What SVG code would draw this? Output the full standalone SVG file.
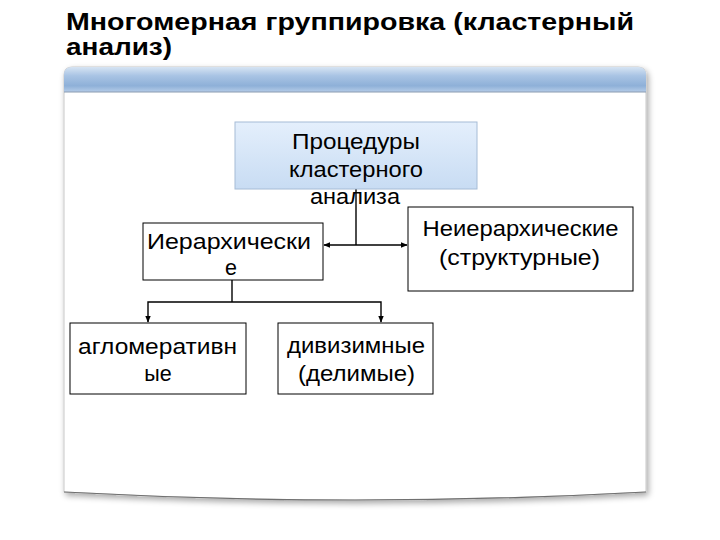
<svg xmlns="http://www.w3.org/2000/svg" width="720" height="540" viewBox="0 0 720 540">
<defs>
<style>
.t{font-family:"Liberation Sans",Arial,sans-serif;font-size:21.5px;fill:#000;text-anchor:middle}
.title{font-family:"Liberation Sans",Arial,sans-serif;font-size:24.5px;font-weight:bold;fill:#000}
.box{fill:#fff;stroke:#000;stroke-width:1}
.ln{fill:none;stroke:#000;stroke-width:1.4}
</style>
<linearGradient id="hdr" x1="0" y1="0" x2="0" y2="1">
<stop offset="0" stop-color="#d6e4f3"/>
<stop offset="0.35" stop-color="#a9c4e4"/>
<stop offset="0.75" stop-color="#8eb0d8"/>
<stop offset="1" stop-color="#b5cce8"/>
</linearGradient>
<linearGradient id="proc" x1="0" y1="0" x2="0" y2="1">
<stop offset="0" stop-color="#e4effc"/>
<stop offset="1" stop-color="#c8dcf3"/>
</linearGradient>
<filter id="sh" x="-5%" y="-5%" width="110%" height="110%">
<feGaussianBlur in="SourceAlpha" stdDeviation="3"/>
<feOffset dx="2" dy="3"/>
<feComponentTransfer><feFuncA type="linear" slope="0.35"/></feComponentTransfer>
<feMerge><feMergeNode/><feMergeNode in="SourceGraphic"/></feMerge>
</filter>
<marker id="ar" viewBox="0 0 10 10" refX="9" refY="5" markerWidth="7" markerHeight="7" orient="auto-start-reverse" markerUnits="userSpaceOnUse">
<path d="M0,1 L10,5 L0,9 Z" fill="#000"/>
</marker>
</defs>
<rect width="720" height="540" fill="#fff"/>
<text class="title" x="66" y="30" textLength="568" lengthAdjust="spacingAndGlyphs">Многомерная группировка (кластерный</text>
<text class="title" x="66" y="55" textLength="106" lengthAdjust="spacingAndGlyphs">анализ)</text>
<g id="panel">
<path d="M64,75 Q64,67 72,67 L638,67 Q646,67 646,75 L646,492 Q500,500 355,500 Q210,500 64,492 Z" fill="#fff" stroke="#c8c8c8" stroke-width="1" filter="url(#sh)"/>
<path d="M64,75 Q64,67 72,67 L638,67 Q646,67 646,75 L646,92 L64,92 Z" fill="url(#hdr)"/>
<line x1="64" y1="92" x2="646" y2="92" stroke="#8a9bb0" stroke-width="1"/>
<path d="M64,492 Q210,500 355,500 Q500,500 646,492" fill="none" stroke="#707070" stroke-width="1.2"/>
</g>
<g id="connectors">
<line class="ln" x1="356" y1="189" x2="356" y2="245"/>
<line class="ln" x1="324" y1="245" x2="407" y2="245" marker-start="url(#ar)" marker-end="url(#ar)"/>
<line class="ln" x1="232" y1="280" x2="232" y2="302"/>
<polyline class="ln" points="148,322 148,302 381,302 381,322" marker-start="url(#ar)" marker-end="url(#ar)"/>
</g>
<g id="node-proc">
<rect x="235" y="122" width="242" height="67" fill="url(#proc)" stroke="#a6bcd6" stroke-width="1"/>
<text class="t" x="356" y="149" textLength="128" lengthAdjust="spacingAndGlyphs">Процедуры</text>
<text class="t" x="356" y="177" textLength="134" lengthAdjust="spacingAndGlyphs">кластерного</text>
<text class="t" x="355" y="204" textLength="90" lengthAdjust="spacingAndGlyphs">анализа</text>
</g>
<g id="node-hier">
<rect class="box" x="143" y="223" width="180" height="57"/>
<text class="t" x="229" y="249" textLength="164" lengthAdjust="spacingAndGlyphs">Иерархически</text>
<text class="t" x="231" y="275">е</text>
</g>
<g id="node-nonhier">
<rect class="box" x="408" y="207" width="225" height="84"/>
<text class="t" x="520.5" y="236" textLength="196" lengthAdjust="spacingAndGlyphs">Неиерархические</text>
<text class="t" x="519.5" y="265" textLength="161" lengthAdjust="spacingAndGlyphs">(структурные)</text>
</g>
<g id="node-aggl">
<rect class="box" x="70" y="323" width="176" height="71"/>
<text class="t" x="157.5" y="354" textLength="159" lengthAdjust="spacingAndGlyphs">агломеративн</text>
<text class="t" x="158" y="381">ые</text>
</g>
<g id="node-div">
<rect class="box" x="278" y="323" width="155" height="71"/>
<text class="t" x="356" y="353" textLength="138" lengthAdjust="spacingAndGlyphs">дивизимные</text>
<text class="t" x="356.5" y="381" textLength="117" lengthAdjust="spacingAndGlyphs">(делимые)</text>
</g>
</svg>
